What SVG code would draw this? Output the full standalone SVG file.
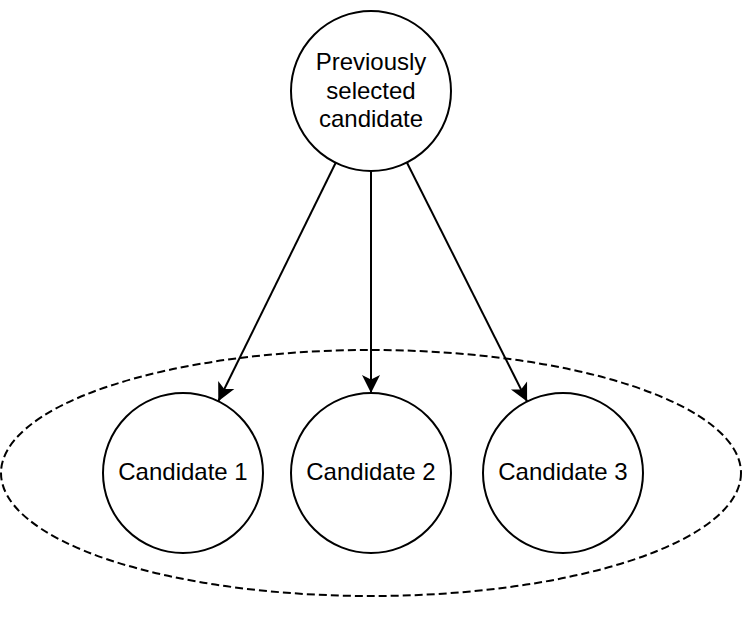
<svg xmlns="http://www.w3.org/2000/svg" width="747" height="618" viewBox="0 0 747 618">
<style>
.node{fill:#fff;stroke:#000;stroke-width:2}
.lbl{font-family:"Liberation Sans",Arial,sans-serif;font-size:24px;text-anchor:middle;fill:#000}
.edge{stroke:#000;stroke-width:2;fill:none}
</style>
<defs>
<marker id="arr" markerUnits="userSpaceOnUse" markerWidth="20" markerHeight="20" viewBox="-19 -10 20 20" refX="0" refY="0" orient="auto">
<path d="M0,0 L-18,-9 L-13.5,0 L-18,9 Z" fill="#000"/>
</marker>
</defs>
<rect width="747" height="618" fill="#fff"/>
<g id="group">
<ellipse cx="371" cy="473" rx="370" ry="123" fill="none" stroke="#000" stroke-width="2" stroke-dasharray="8 4"/>
</g>
<g id="prev">
<circle class="node" cx="371" cy="91" r="80"/>
<text class="lbl" x="371" y="70">Previously</text>
<text class="lbl" x="371" y="99">selected</text>
<text class="lbl" x="371" y="127">candidate</text>
</g>
<g id="c1">
<circle class="node" cx="183" cy="473" r="80"/>
<text class="lbl" x="183" y="480">Candidate 1</text>
</g>
<g id="c2">
<circle class="node" cx="371" cy="473" r="80"/>
<text class="lbl" x="371" y="480">Candidate 2</text>
</g>
<g id="c3">
<circle class="node" cx="563" cy="473" r="80"/>
<text class="lbl" x="563" y="480">Candidate 3</text>
</g>
<g id="connectors">
<line class="edge" x1="335.7" y1="162.8" x2="218.3" y2="401.2" marker-end="url(#arr)"/>
<line class="edge" x1="371" y1="171" x2="371" y2="393" marker-end="url(#arr)"/>
<line class="edge" x1="406.9" y1="162.5" x2="527.1" y2="401.5" marker-end="url(#arr)"/>
</g>
</svg>
